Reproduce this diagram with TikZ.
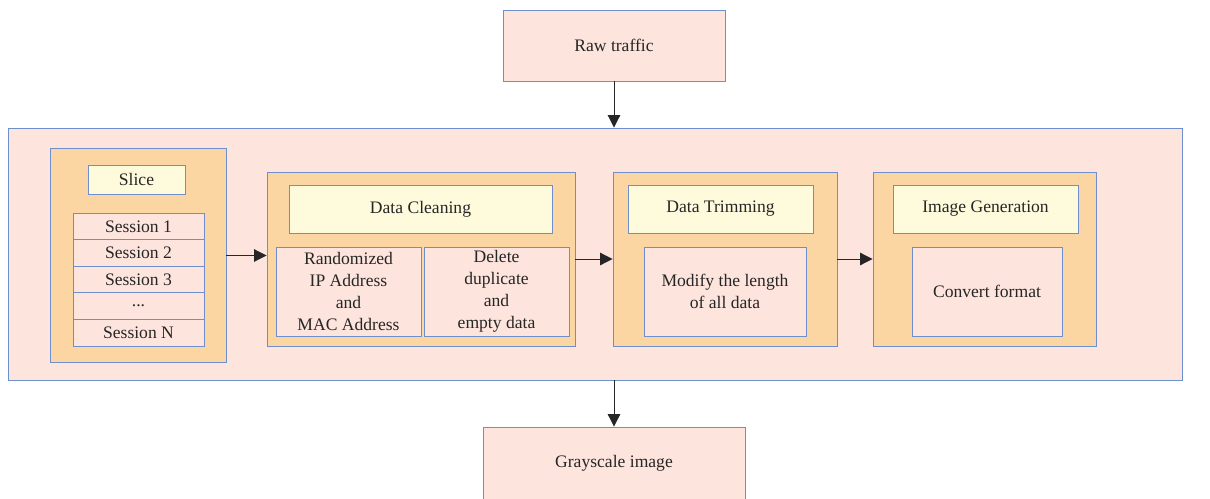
\documentclass[tikz,border=0pt]{standalone}
\usepackage{fontspec}
\setmainfont{Liberation Serif}
\definecolor{EdgeBlue}{RGB}{110, 143, 205}
\definecolor{SoftPink}{RGB}{253, 228, 220}
\definecolor{Apricot}{RGB}{251, 214, 162}
\definecolor{PaleYellow}{RGB}{253, 251, 220}
\newcommand{\dotrow}{...}
\usetikzlibrary{arrows.meta, positioning}

\begin{document}
\begin{tikzpicture}[
    x=0.025cm, y=-0.025cm,
    every node/.style={font=\fontsize{12.5}{15.6}\selectfont, align=center, text=black!85, inner sep=0pt},
    box/.style={draw=EdgeBlue, line width=0.6pt, fill=SoftPink},
    stage/.style={draw=EdgeBlue, line width=0.6pt, fill=Apricot, minimum height=4.35cm},
    title/.style={draw=EdgeBlue, line width=0.6pt, fill=PaleYellow, minimum height=1.2cm},
    item/.style={box, minimum height=2.225cm},
    flow/.style={-{Triangle[length=3.1mm, width=3.1mm]}, line width=0.7pt, black!85}
]
\useasboundingbox (0,0) rectangle (1210,499);
% input and outer frame
\node[box, minimum width=5.55cm, minimum height=1.775cm] (raw) at (614,45.5) {Raw traffic};
\node[box, minimum width=29.325cm, minimum height=6.3cm] (main) at (595.5,254) {};
\node[box, minimum width=6.55cm, minimum height=1.825cm] (gray) at (614,463.5) {Grayscale image};

% slice
\node[stage, minimum width=4.4cm, minimum height=5.35cm] (slicebox) at (138,255.5) {};
\node[title, minimum width=2.425cm, minimum height=0.725cm] (slice) at (136.5,179.5) {Slice};
\foreach \s/\t [count=\i] in {s1/Session 1, s2/Session 2, s3/Session 3, s4/\dotrow, s5/Session N}
    \node[box, minimum width=3.275cm, minimum height=0.665cm] (\s) at (138.5,{199.7+26.6*\i}) {\t};

% data cleaning
\node[stage, minimum width=7.7cm] (clean) at (421,259) {};
\node[title, minimum width=6.575cm] (cleantitle) at (420.5,209) {Data Cleaning};
\node[item, minimum width=3.625cm] (rand) at (348.5,291.5) {Randomized\\IP Address\\and\\MAC Address};
\node[item, minimum width=3.625cm] (del) at (496.5,291.5) {Delete\\duplicate\\and\\empty data};

% data trimming
\node[stage, minimum width=5.6cm] (trim) at (725,259) {};
\node[title, minimum width=4.625cm] (trimtitle) at (720.5,209) {Data Trimming};
\node[item, minimum width=4.05cm] (modify) at (725,291.5) {Modify the length\\of all data};

% image generation
\node[stage, minimum width=5.575cm] (gen) at (984.5,259) {};
\node[title, minimum width=4.625cm] (gentitle) at (985.5,209) {Image Generation};
\node[item, minimum width=3.75cm] (convert) at (987,291.5) {Convert format};

\draw[flow] (raw.south) -- (raw.south |- main.north);
\draw[flow] (slicebox.east) -- (slicebox.east -| clean.west);
\draw[flow] (clean) -- (trim);
\draw[flow] (trim) -- (gen);
\draw[flow] (gray.north |- main.south) -- (gray.north);
\end{tikzpicture}
\end{document}
